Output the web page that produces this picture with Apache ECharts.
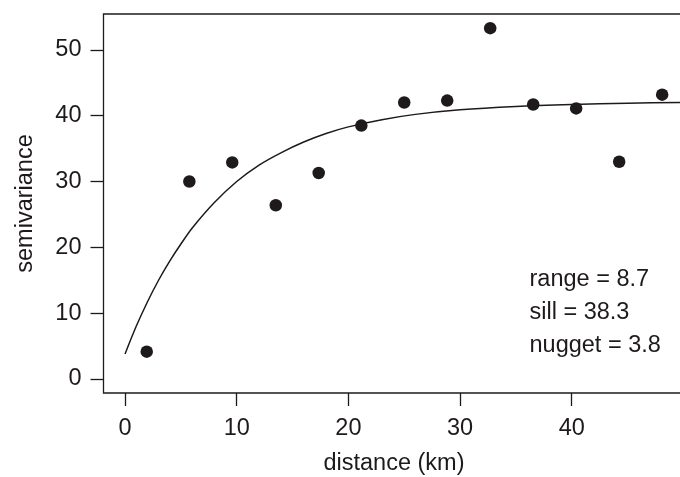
<!DOCTYPE html>
<html>
<head>
<meta charset="utf-8">
<script src="https://cdn.jsdelivr.net/npm/echarts@6/dist/echarts.min.js"></script>
<style>
html,body{margin:0;padding:0;background:#fff;}
#chart{width:680px;height:477px;}
</style>
</head>
<body>
<div id="chart"></div>
<script>
var distance = [1.94, 5.76, 9.6, 13.5, 17.34, 21.16, 25.0, 28.85, 32.7, 36.55, 40.4, 44.25, 48.1];
var semivariance = [4.15, 30.0, 32.9, 26.4, 31.3, 38.5, 42.0, 42.3, 53.3, 41.7, 41.1, 33.0, 43.2];

// Fitted model curve
var curveDistance = [0, 1, 2, 3, 4, 5, 6, 8, 10, 12, 14, 16, 18, 20, 23, 26, 30, 35, 40, 45, 50];
var curveValue = [3.8, 8.0, 11.7, 15.0, 17.9, 20.5, 22.9, 26.8, 30.0, 32.5, 34.4, 36.0, 37.3, 38.3, 39.4, 40.2, 40.9, 41.4, 41.7, 41.9, 42.0];

var xTicks = [0, 10, 20, 30, 40];
var yTicks = [0, 10, 20, 30, 40, 50];

var annotations = ['range = 8.7', 'sill = 38.3', 'nugget = 3.8'];

var ink = '#1e1a1b';
var font = "'Liberation Sans', Arial, Helvetica, sans-serif";
var fs = 23.5;

var chart = echarts.init(document.getElementById('chart'), null, {renderer: 'canvas'});

var pts = distance.map(function (d, i) { return [d, semivariance[i]]; });
var curve = curveDistance.map(function (d, i) { return [d, curveValue[i]]; });

chart.setOption({
  animation: false,
  backgroundColor: '#ffffff',
  grid: {
    left: 103.5, top: 14, right: -4.5, bottom: 84,
    show: true, borderColor: ink, borderWidth: 1.3,
    backgroundColor: 'transparent',
    containLabel: false, outerBoundsMode: 'none'
  },
  xAxis: {
    type: 'value', min: -1.93, max: 50.1,
    name: 'distance (km)', nameLocation: 'middle', nameGap: 59,
    nameTextStyle: {fontFamily: font, fontSize: fs, color: ink},
    axisLine: {show: false, onZero: false},
    axisTick: {show: true, inside: false, length: 13, customValues: xTicks, lineStyle: {color: ink, width: 1.3}},
    axisLabel: {show: true, margin: 24, customValues: xTicks, fontFamily: font, fontSize: fs, color: ink},
    splitLine: {show: false}
  },
  yAxis: {
    type: 'value', min: -2.13, max: 55.45,
    name: 'semivariance', nameLocation: 'middle', nameGap: 66,
    nameTextStyle: {fontFamily: font, fontSize: fs, color: ink},
    axisLine: {show: false, onZero: false},
    axisTick: {show: true, inside: false, length: 13, customValues: yTicks, lineStyle: {color: ink, width: 1.3}},
    axisLabel: {show: true, margin: 22, customValues: yTicks, fontFamily: font, fontSize: fs, color: ink},
    splitLine: {show: false}
  },
  series: [
    {
      type: 'line', data: curve, smooth: 0.3,
      showSymbol: false, symbol: 'none',
      lineStyle: {color: ink, width: 1.5}, clip: true, z: 2
    },
    {
      type: 'scatter', data: pts, symbol: 'circle', symbolSize: 12.5,
      itemStyle: {color: ink, opacity: 1}, z: 3
    }
  ],
  graphic: annotations.map(function (t, i) {
    return {
      type: 'text', left: 529.5, top: 268 + i * 33,
      style: {text: t, fontFamily: font, fontSize: fs, fill: ink}
    };
  })
});
</script>
</body>
</html>
